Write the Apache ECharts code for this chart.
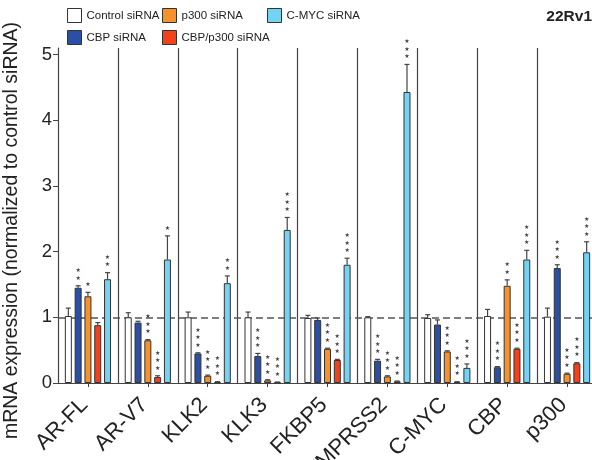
<!DOCTYPE html>
<html>
<head>
<meta charset="utf-8">
<script src="https://cdn.jsdelivr.net/npm/echarts@6/dist/echarts.min.js"></script>
<style>html,body{margin:0;padding:0;background:#fff}#c{width:592px;height:460px}</style>
</head>
<body>
<div id="c"></div>
<script>
const categories = ['AR-FL','AR-V7','KLK2','KLK3','FKBP5','TMPRSS2','C-MYC','CBP','p300'];
const seriesNames = ['Control siRNA','CBP siRNA','p300 siRNA','CBP/p300 siRNA','C-MYC siRNA'];
const controlVals = [1.02,1.00,1.00,1.00,0.99,1.00,0.99,1.02,1.01];
const cbpVals     = [1.45,0.92,0.45,0.41,0.96,0.34,0.89,0.24,1.75];
const p300Vals    = [1.32,0.65,0.11,0.04,0.52,0.10,0.48,1.48,0.14];
const bothVals    = [0.88,0.09,0.015,0.01,0.35,0.025,0.015,0.52,0.30];
const cmycVals    = [1.58,1.88,1.52,2.33,1.80,4.43,0.23,1.88,1.99];
// upper end of error bars
const controlErr = [1.14,1.07,1.08,1.08,1.03,1.01,1.04,1.12,1.14];
const cbpErr     = [1.48,0.94,0.46,0.45,0.99,0.36,0.96,0.25,1.80];
const p300Err    = [1.38,0.66,0.12,0.05,0.53,0.11,0.49,1.57,0.15];
const bothErr    = [0.92,0.11,0.02,0.015,0.36,0.03,0.02,0.53,0.31];
const cmycErr    = [1.68,2.24,1.63,2.52,1.90,4.85,0.29,2.02,2.15];
// number of significance stars
const controlStars = [0,0,0,0,0,0,0,0,0];
const cbpStars     = [2,0,3,3,0,3,0,3,3];
const p300Stars    = [1,3,3,3,3,3,3,2,3];
const bothStars    = [0,3,3,3,3,3,3,3,3];
const cmycStars    = [2,1,2,3,3,3,3,3,3];
const yTicks = [0,1,2,3,4,5];

const vals = [controlVals,cbpVals,p300Vals,bothVals,cmycVals];
const errs = [controlErr,cbpErr,p300Err,bothErr,cmycErr];
const stars = [controlStars,cbpStars,p300Stars,bothStars,cmycStars];
const colors = ['#ffffff','#2a4fa3','#f7912a','#f2411b','#74d2f2'];

const BW = 7, GAP = 0.4, PITCH = BW*(1+GAP);

const errData = [];
for (let s=0;s<5;s++) for (let c=0;c<categories.length;c++) errData.push([c,s,vals[s][c],errs[s][c],stars[s][c]]);

const barSeries = seriesNames.map((n,i)=>({
  name:n, type:'bar', data:vals[i], barWidth:BW, barGap:(GAP*100)+'%', z:3,
  itemStyle:{color:colors[i], borderColor:'#333', borderWidth:1},
  emphasis:{disabled:true}
}));
barSeries[0].markLine = {
  silent:true, symbol:'none', z:1, label:{show:false},
  lineStyle:{type:[7,4], color:'#555', width:1.5},
  data:[{yAxis:1}]
};

const legendPos = [[67,8],[67,30],[162,8],[162,30],[267,8]];
const legends = seriesNames.map((n,i)=>({
  data:[n], left:legendPos[i][0], top:legendPos[i][1], itemWidth:14, itemHeight:14, padding:0,
  selectedMode:false, icon:'rect',
  itemStyle:{borderColor:'#333', borderWidth:1},
  textStyle:{fontSize:11.5, color:'#222', fontFamily:'Liberation Sans'}
}));

const chart = echarts.init(document.getElementById('c'), null, {renderer:'canvas'});
chart.setOption({
  animation:false,
  textStyle:{fontFamily:'Liberation Sans'},
  title:{text:'22Rv1', right:0, top:9, padding:0, textStyle:{fontSize:15.5, fontWeight:'bold', color:'#222', fontFamily:'Liberation Sans'}},
  legend:legends,
  grid:{left:58, top:48, width:539, bottom:77, containLabel:false, outerBoundsMode:'none'},
  xAxis:{
    type:'category', data:categories, boundaryGap:true,
    axisLine:{lineStyle:{color:'#444', width:1}},
    axisTick:{show:true, alignWithLabel:true, length:4, lineStyle:{color:'#444'}},
    splitLine:{show:true, lineStyle:{color:'#444', width:1.2}},
    axisLabel:{rotate:45, fontSize:22, color:'#222', margin:15, interval:0, padding:[0,5,0,0]}
  },
  yAxis:{
    type:'value', min:0, max:5.1, interval:1,
    name:'mRNA expression (normalized to control siRNA)', nameLocation:'middle', nameGap:36,
    nameTextStyle:{fontSize:19.5, color:'#222', padding:[0,30,0,0]},
    axisLine:{show:true, lineStyle:{color:'#444', width:1}},
    axisTick:{show:true, length:5, lineStyle:{color:'#444'}, customValues:yTicks},
    axisLabel:{fontSize:18.5, color:'#222', margin:6, customValues:yTicks},
    splitLine:{show:false}
  },
  series:[...barSeries, {
    type:'custom', name:'err', z:4, data:errData, encode:{x:0,y:2},
    renderItem:function(params, api){
      const c=api.value(0), s=api.value(1), v=api.value(2), t=api.value(3), n=api.value(4);
      const p0=api.coord([c,v]), p1=api.coord([c,t]);
      const x=p0[0]+(s-2)*PITCH;
      const children=[
        {type:'line', shape:{x1:x,y1:p0[1],x2:x,y2:p1[1]}, style:{stroke:'#444', lineWidth:1.2}},
        {type:'line', shape:{x1:x-2.5,y1:p1[1],x2:x+2.5,y2:p1[1]}, style:{stroke:'#444', lineWidth:1.2}}
      ];
      if(n>0){
        const txt=Array(n).fill('\u2605').join('\n');
        children.push({type:'text', x:x, y:p1[1]-4, style:{text:txt, fontSize:6, lineHeight:7.5, fill:'#444', align:'center', verticalAlign:'bottom', fontFamily:'DejaVu Sans'}});
      }
      return {type:'group', children:children};
    }
  }]
});
</script>
</body>
</html>
